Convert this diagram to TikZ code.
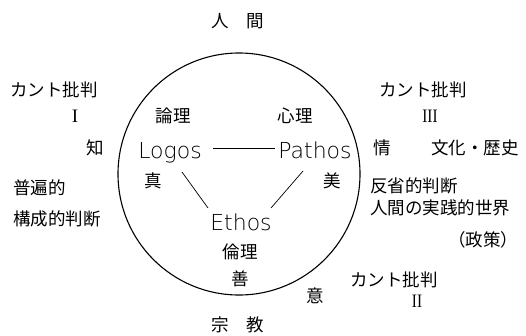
\documentclass[tikz,border=0pt]{standalone}
\usepackage{fontspec}
\usepackage{graphicx}
\setmainfont{Noto Sans CJK JP}
\newfontfamily\latinthin{DejaVu Sans ExtraLight}
\newfontfamily\romanfont{Liberation Serif}
\usetikzlibrary{calc}
\begin{document}
\begin{tikzpicture}[x=1pt,y=-1pt,
  jp/.style={inner sep=0pt,font=\fontsize{17.5}{20}\selectfont},
  greek/.style={inner sep=0pt,anchor=base,font=\latinthin\fontsize{22}{26}\selectfont},
  numeral/.style={inner sep=0pt,font=\romanfont\fontsize{19}{22}\selectfont},
  conn/.style={line width=0.7pt}]
\useasboundingbox (0,0) rectangle (526,335);
\node[draw,circle,line width=1.1pt,minimum size=242pt,inner sep=0pt] (circ) at (239,174) {};
% central terms
\node[greek] (logos) at (170,158) {Logos};
\node[greek] (pathos) at (315,158) {Pathos};
\node[greek] (ethos) at (241,230) {Ethos};
\draw[conn] ($(logos.base east)+(11,-10)$) -- ($(pathos.base west)+(-3,-10)$);
\draw[conn] ($(logos.base)+(12,14)$) -- ($(ethos.base)+(-33,-22)$);
\draw[conn] ($(pathos.base)+(-12,13)$) -- ($(ethos.base)+(30,-22)$);
% inside labels
\node[jp] (ronri) at (173,116) {論理};
\node[jp] (shinri) at (295,116) {心理};
\node[jp] (shin) at (153,181) {真};
\node[jp] (bi) at (332,181) {美};
\node[jp] (rinri) at (240,252) {倫理};
\node[jp] (zen) at (240,279) {善};
% top / bottom
\node[jp] (ningen) at (238,21) {人　間};
\node[jp] (shukyo) at (238,325) {宗　教};
% left
\node[jp] (kant1) at (54,90) {カント批判};
\node[numeral] (num1) at (75,116) {I};
\node[jp] (chi) at (95,148) {知};
\node[jp,anchor=west] (fuhen) at (13,188) {普遍的};
\node[jp,anchor=west] (kosei) at (13,219) {構成的判断};
% right
\node[jp] (kant3) at (423,90) {カント批判};
\node[numeral] (num3) at (430,116) {\scalebox{0.8}[1]{III}};
\node[jp] (jo) at (382,148) {情};
\node[jp] (bunka) at (475,148) {文化・歴史};
\node[jp,anchor=west] (hansei) at (370,186) {反省的判断};
\node[jp,anchor=west] (jissen) at (370,208) {人間の実践的世界};
\node[jp] (seisaku) at (483,240) {（政策）};
\node[jp] (i) at (315,296) {意};
\node[jp] (kant2) at (394,280) {カント批判};
\node[numeral] (num2) at (417,301) {\scalebox{0.8}[1]{II}};
\end{tikzpicture}
\end{document}
